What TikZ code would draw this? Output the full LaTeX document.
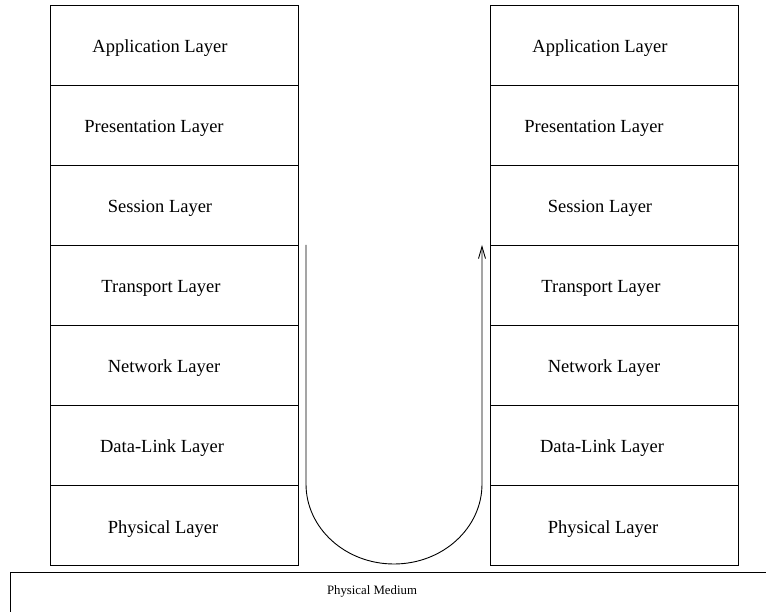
\documentclass[tikz,border=0pt]{standalone}
\usepackage{fontspec}
\setmainfont{Liberation Serif}
\usetikzlibrary{arrows.meta}
\begin{document}
\begin{tikzpicture}[x=1pt,y=1pt,
  layerbox/.style={draw, line width=0.9pt, minimum width=248pt, minimum height=80pt,
    inner sep=0pt, outer sep=0pt},
  layertext/.style={font=\fontsize{18.5}{22}\selectfont, inner sep=0pt, anchor=base},
  medtext/.style={font=\fontsize{12.8}{15}\selectfont, inner sep=0pt},
  flow/.style={line width=0.9pt, -{Straight Barb[length=12pt,width=7pt,line width=0.9pt]}}]
\useasboundingbox (0,0) rectangle (766,611);
\clip (0,0) rectangle (766,611);

% two protocol stacks, seven layers each
\foreach \side/\cx in {L/174, R/614} {
  \foreach \i/\dx/\name in {1/-14/Application Layer, 2/-20/Presentation Layer,
                            3/-14/Session Layer, 4/-13/Transport Layer,
                            5/-10/Network Layer, 6/-12/Data-Link Layer,
                            7/-11/Physical Layer} {
    \node[layerbox] (\side\i) at (\cx, 646-80*\i) {};
    \node[layertext] (\side\i t) at ([xshift=\dx pt, yshift=-8pt]\side\i.center) {\name};
  }
}

% shared physical medium below the stacks
\draw[line width=0.9pt] (790,39) -- (10.5,39) -- (10.5,-20);
\node[medtext] (medium) at (372,20) {Physical Medium};

% data path: down the left stack, across the medium, up the right stack
\coordinate (down) at (306,366);
\coordinate (up) at (482,366);
\draw[flow] (down) -- (306,127)
  arc[start angle=180, end angle=360, x radius=88pt, y radius=80pt]
  -- (up);
\end{tikzpicture}
\end{document}
